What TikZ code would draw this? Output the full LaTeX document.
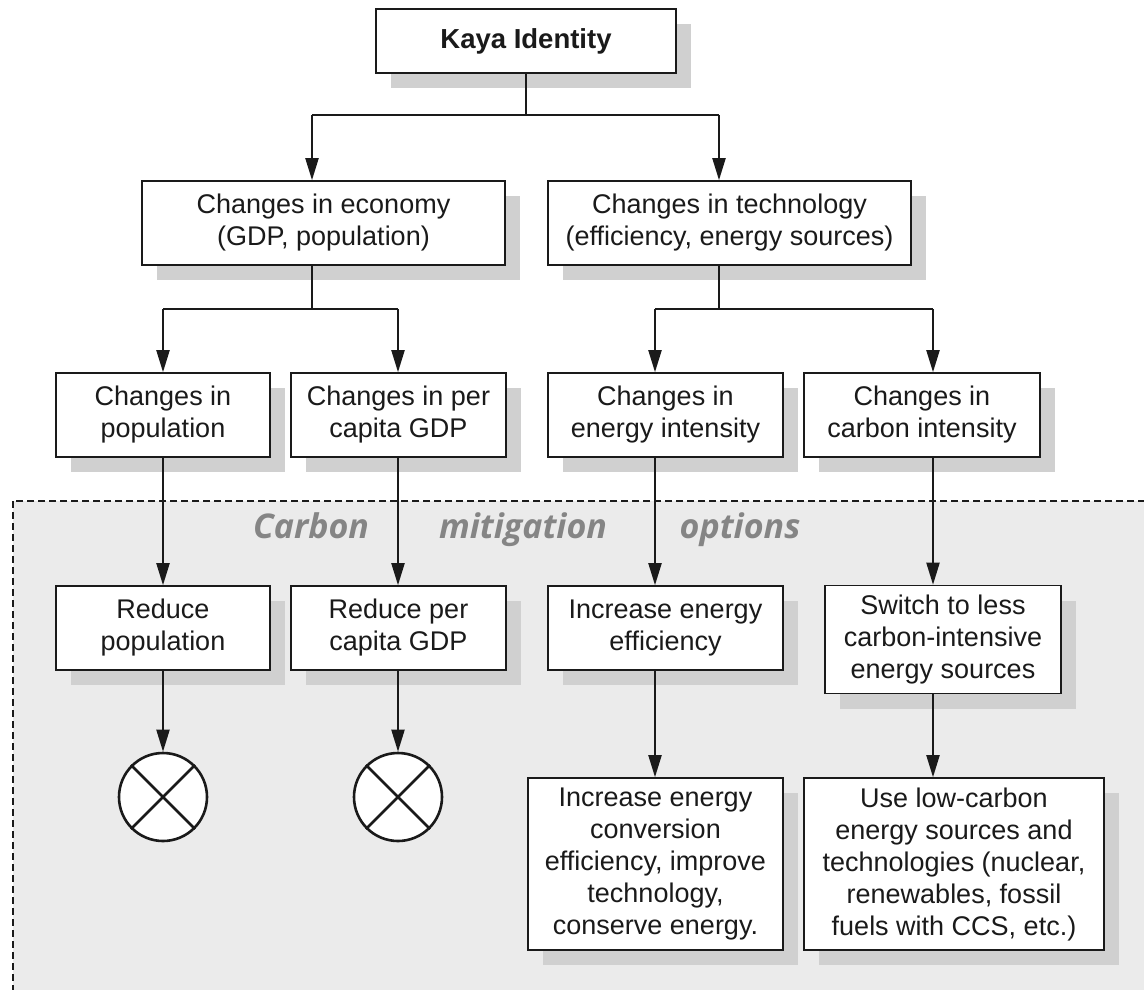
\documentclass[tikz,border=0pt]{standalone}
\usepackage{fontspec}
\setmainfont{Liberation Sans}
\newfontfamily\optfont{Open Sans}
\usetikzlibrary{arrows.meta,shadows}
\definecolor{shadowgray}{HTML}{D0D0D0}
\definecolor{regiongray}{HTML}{EBEBEB}
\definecolor{labelgray}{HTML}{858585}
\definecolor{ink}{HTML}{1A1A1A}
\begin{document}
\begin{tikzpicture}[x=1pt,y=-1pt,
  box/.style={draw=ink, line width=1.6pt, fill=white, inner sep=0pt, align=center,
    text=ink, font=\fontsize{27}{32}\selectfont,
    general shadow={fill=shadowgray, shadow xshift=15pt, shadow yshift=-15pt}},
  stem/.style={draw=ink, line width=1.3pt},
  arr/.style={draw=ink, line width=2pt, -{Triangle[width=13pt,length=22pt]}},
  nogo/.style={circle, draw=ink, line width=2.6pt, fill=white, minimum size=88pt, inner sep=0pt},
  cross/.style={draw=ink, line width=2.6pt},
  optlabel/.style={text=labelgray, font=\optfont\bfseries\itshape\fontsize{34}{38}\selectfont, inner sep=0pt, anchor=base},
  region/.style={draw=ink, fill=regiongray, line width=1.2pt, dash pattern=on 7pt off 4pt}
]
\useasboundingbox (0,0) rectangle (1144,989);
\begin{scope}
  \clip (0,0) rectangle (1144,989);
  \path[region] (13,501) rectangle (1170,1010);
\end{scope}

% labels
\node[optlabel] (lc) at (311,538) {Carbon};
\node[optlabel] (lm) at (523,538) {mitigation};
\node[optlabel] (lo) at (740,538) {options};

% nodes
\node[box, minimum width=300pt, minimum height=64pt, font=\fontsize{27.5}{32}\selectfont\bfseries] (kaya) at (526,41) {\raisebox{-2pt}{Kaya Identity}};
\node[box, minimum width=363pt, minimum height=84pt] (econ) at (323.5,223) {Changes in economy\\(GDP, population)};
\node[box, minimum width=363pt, minimum height=84pt] (tech) at (729.5,223) {Changes in technology\\(efficiency, energy sources)};

\node[box, minimum width=214pt, minimum height=84pt] (pop) at (163,415) {Changes in\\population};
\node[box, minimum width=215pt, minimum height=84pt] (gdp) at (398.5,415) {Changes in per\\capita GDP};
\node[box, minimum width=235pt, minimum height=84pt] (ei) at (665.5,415) {Changes in\\energy intensity};
\node[box, minimum width=236pt, minimum height=84pt] (ci) at (922,415) {Changes in\\carbon intensity};

\node[box, minimum width=214pt, minimum height=84pt] (rpop) at (163,628) {Reduce\\population};
\node[box, minimum width=215pt, minimum height=84pt] (rgdp) at (398.5,628) {Reduce per\\capita GDP};
\node[box, minimum width=235pt, minimum height=84pt] (ieff) at (665.5,628) {Increase energy\\efficiency};
\node[box, minimum width=236pt, minimum height=108pt] (sw) at (943,639.5) {Switch to less\\carbon-intensive\\energy sources};

\node[box, minimum width=255pt, minimum height=172pt] (conv) at (655.5,864) {Increase energy\\conversion\\efficiency, improve\\technology,\\conserve energy.};
\node[box, minimum width=300pt, minimum height=172pt] (lowc) at (954,864) {Use low-carbon\\energy sources and\\technologies (nuclear,\\renewables, fossil\\fuels with CCS, etc.)};

\node[nogo] (x1) at (163,797) {};
\node[nogo] (x2) at (398,797) {};
\draw[cross] (x1.north west) -- (x1.south east);
\draw[cross] (x1.north east) -- (x1.south west);
\draw[cross] (x2.north west) -- (x2.south east);
\draw[cross] (x2.north east) -- (x2.south west);

% branch points
\coordinate (jk) at (526,115);
\coordinate (je) at (312,309);
\coordinate (jt) at (719,309);

% connectors
\draw[stem] (kaya.south) -- (jk);
\draw[stem] ([xshift=-214pt]jk) -- ([xshift=193pt]jk);
\draw[arr] ([xshift=-214pt]jk) -- ([xshift=-11.5pt]econ.north);
\draw[arr] ([xshift=193pt]jk) -- ([xshift=-10.5pt]tech.north);

\draw[stem] ([xshift=-11.5pt]econ.south) -- (je);
\draw[stem] ([xshift=-149pt]je) -- ([xshift=86pt]je);
\draw[arr] ([xshift=-149pt]je) -- (pop.north);
\draw[arr] ([xshift=86pt]je) -- ([xshift=-0.5pt]gdp.north);

\draw[stem] ([xshift=-10.5pt]tech.south) -- (jt);
\draw[stem] ([xshift=-64pt]jt) -- ([xshift=214pt]jt);
\draw[arr] ([xshift=-64pt]jt) -- ([xshift=-10.5pt]ei.north);
\draw[arr] ([xshift=214pt]jt) -- ([xshift=11pt]ci.north);

\draw[arr] (pop.south) -- (rpop.north);
\draw[arr] ([xshift=-0.5pt]gdp.south) -- ([xshift=-0.5pt]rgdp.north);
\draw[arr] ([xshift=-10.5pt]ei.south) -- ([xshift=-10.5pt]ieff.north);
\draw[arr] ([xshift=11pt]ci.south) -- ([xshift=-10pt]sw.north);

\draw[arr] (rpop.south) -- (x1.north);
\draw[arr] ([xshift=-0.5pt]rgdp.south) -- (x2.north);
\draw[arr] ([xshift=-10.5pt]ieff.south) -- ([xshift=-0.5pt]conv.north);
\draw[arr] ([xshift=-10pt]sw.south) -- ([xshift=-21pt]lowc.north);
\end{tikzpicture}
\end{document}
